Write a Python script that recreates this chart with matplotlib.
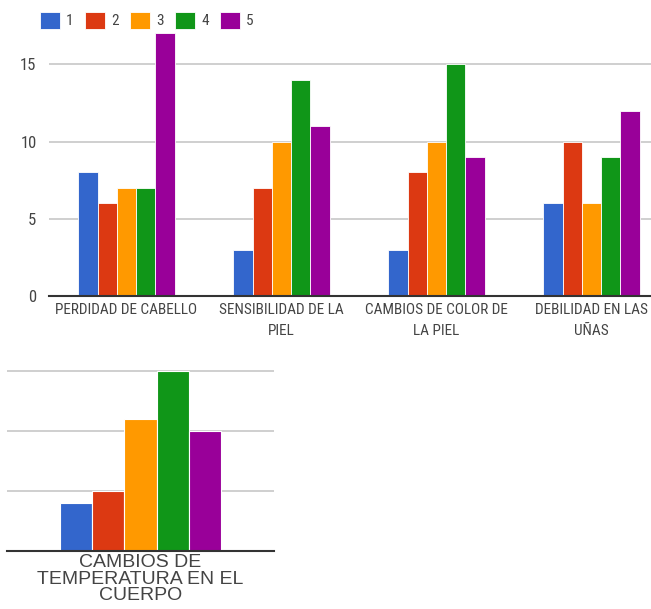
import numpy as np
import matplotlib
matplotlib.use("Agg")
import matplotlib.pyplot as plt

series = ["1", "2", "3", "4", "5"]
colors = ["#3366cc", "#dc3912", "#ff9900", "#109618", "#990099"]

top_labels = ["PERDIDAD DE CABELLO", "SENSIBILIDAD DE LA\nPIEL",
              "CAMBIOS DE COLOR DE\nLA PIEL", "DEBILIDAD EN LAS\nUÑAS"]
perdida = [8, 6, 7, 7, 17]
sensibilidad = [3, 7, 10, 14, 11]
color_piel = [3, 8, 10, 15, 9]
debilidad = [6, 10, 6, 9, 12]

bottom_labels = ["CAMBIOS DE\nTEMPERATURA EN EL\nCUERPO"]
temperatura = [4, 5, 11, 15, 10]

narrow = ["Roboto Condensed", "DejaVu Sans"]
wide = ["Liberation Sans", "DejaVu Sans"]

W, H = 651, 609
fig = plt.figure(figsize=(W / 100, H / 100), dpi=100)

# top chart
top = np.array([perdida, sensibilidad, color_piel, debilidad])
ax = fig.add_axes([49 / W, (H - 296) / H, 620 / W, 17 * 15.45 / H])
x = np.arange(len(top_labels))
bw = 0.124
for i in range(len(series)):
    ax.bar(x + (i - 2) * bw, top[:, i], width=bw, color=colors[i],
           edgecolor="white", linewidth=0.6, label=series[i], zorder=3)
ax.set_xlim(-0.5, len(top_labels) - 0.5)
ax.set_ylim(0, 17)
ax.set_yticks([0, 5, 10, 15])
ax.grid(axis="y", color="#cccccc", linewidth=1.3, zorder=0)
for s in ["top", "right", "left"]:
    ax.spines[s].set_visible(False)
ax.spines["bottom"].set_color("#333333")
ax.spines["bottom"].set_linewidth(1.5)
ax.spines["bottom"].set_zorder(4)
ax.tick_params(length=0, colors="#444444")
ax.tick_params(axis="y", pad=9)
ax.tick_params(axis="x", pad=5)
ax.set_xticks(x)
ax.set_xticklabels(top_labels, family=narrow, fontsize=11, linespacing=1.65, va="top")
for t in ax.get_yticklabels():
    t.set_family(narrow)
    t.set_fontsize(12)

leg = fig.legend(loc="upper left", bbox_to_anchor=(40 / W, 1 - 12 / H), ncol=5,
                 frameon=False, borderpad=0, borderaxespad=0, handlelength=1.3,
                 handleheight=1.3, handletextpad=0.4, columnspacing=0.75,
                 prop={"family": narrow, "size": 11})
for t in leg.get_texts():
    t.set_color("#444444")

# bottom chart
ax2 = fig.add_axes([7 / W, (H - 551) / H, 267 / W, 15.5 * 12 / H])
bw2 = 0.12
for i in range(len(series)):
    ax2.bar((i - 2) * bw2, temperatura[i], width=bw2, color=colors[i],
            edgecolor="white", linewidth=0.8, zorder=3)
ax2.set_xlim(-0.5, 0.5)
ax2.set_ylim(0, 15.5)
ax2.set_yticks([5, 10, 15])
ax2.set_yticklabels([])
ax2.grid(axis="y", color="#cccccc", linewidth=1.3, zorder=0)
for s in ["top", "right", "left"]:
    ax2.spines[s].set_visible(False)
ax2.spines["bottom"].set_color("#333333")
ax2.spines["bottom"].set_linewidth(1.5)
ax2.spines["bottom"].set_zorder(4)
ax2.tick_params(length=0, colors="#444444", pad=2)
ax2.set_xticks([0])
ax2.set_xticklabels(bottom_labels, family=wide, fontsize=14, linespacing=0.98)

fig.savefig("out.png", dpi=100)
